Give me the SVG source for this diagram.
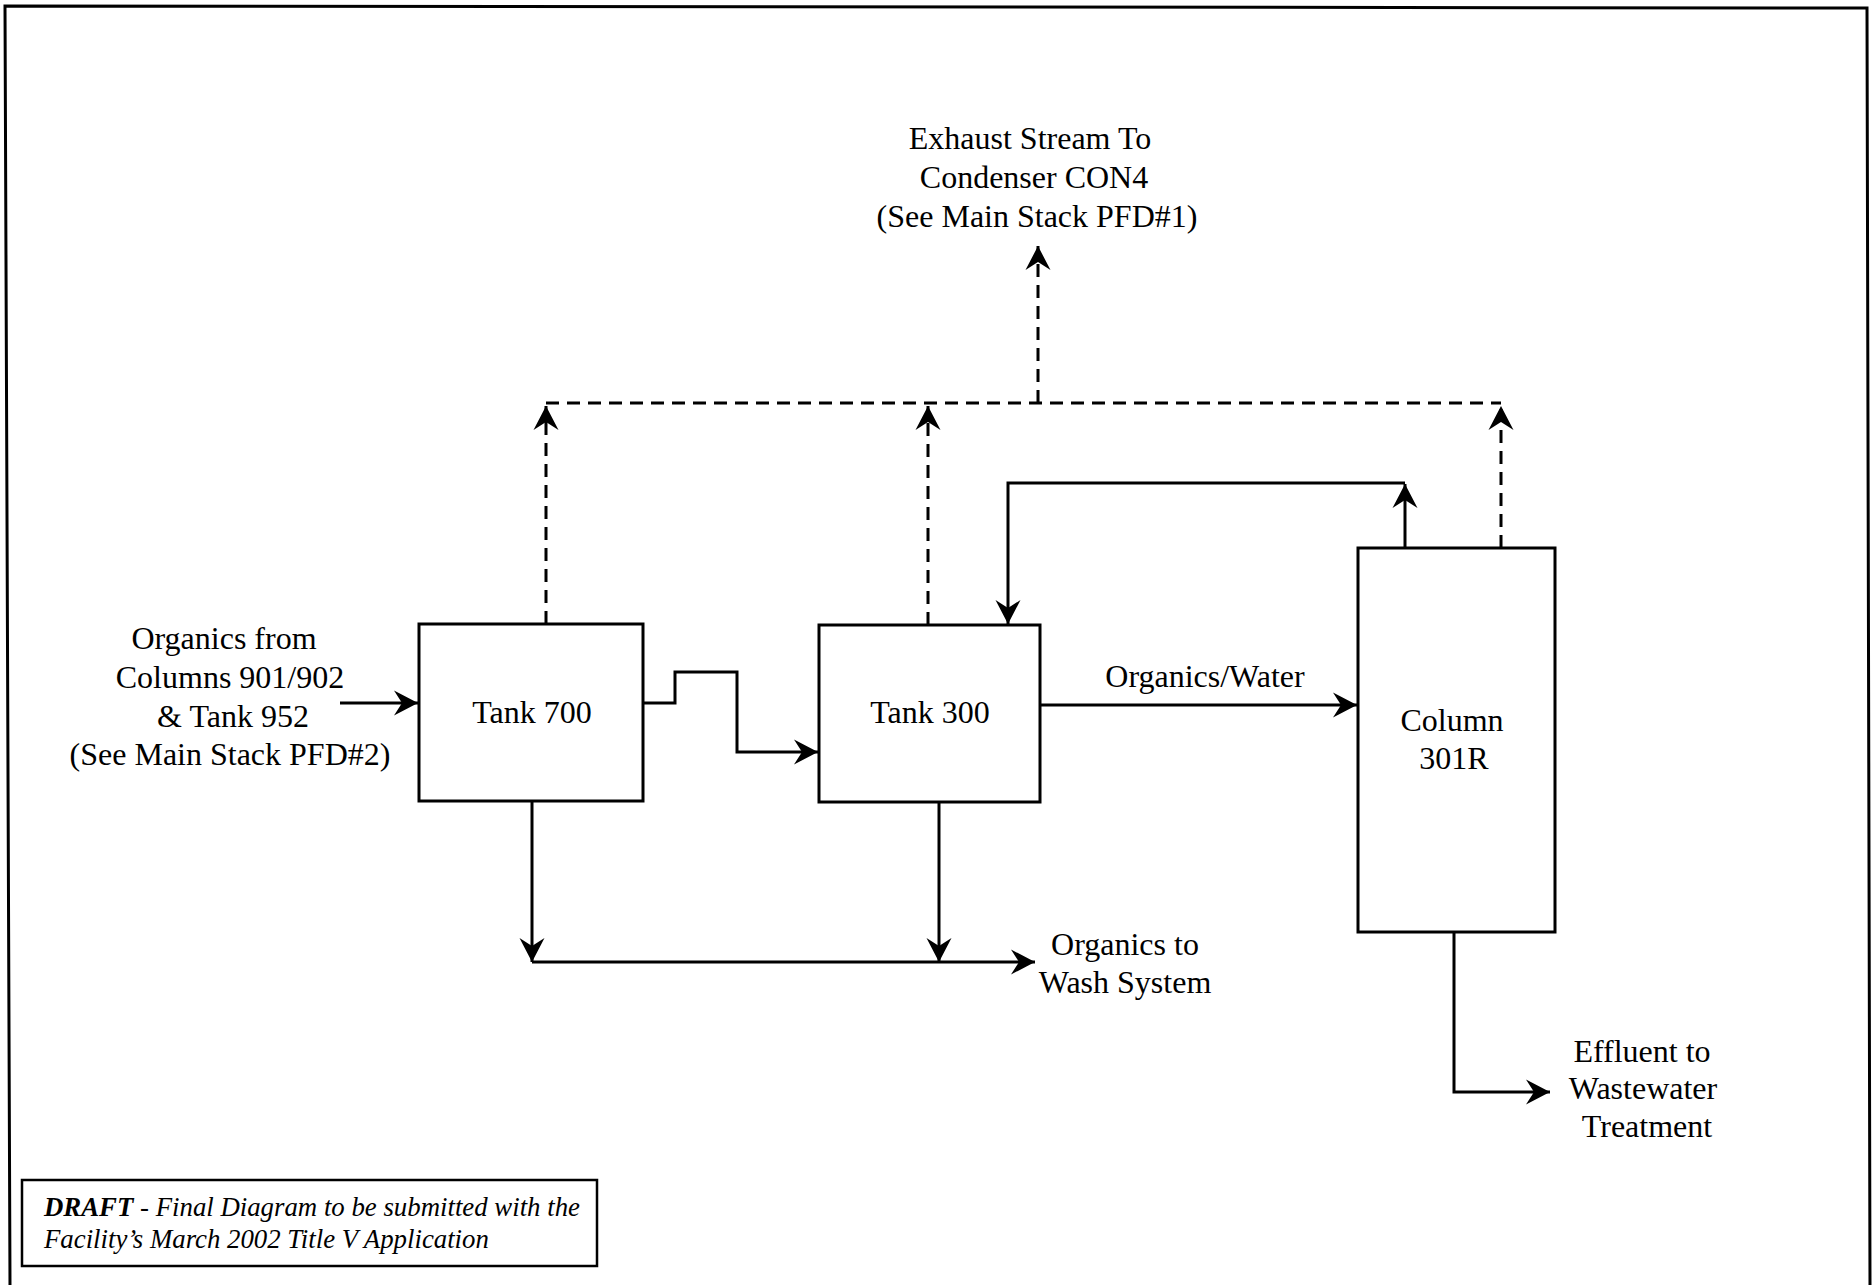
<svg xmlns="http://www.w3.org/2000/svg" width="1873" height="1285" viewBox="0 0 1873 1285">
  <style>
    .box { fill: #ffffff; stroke: #000000; stroke-width: 3; }
    .lbl { font-family: "Liberation Serif", "Times New Roman", serif; font-size: 32px; fill: #000000; text-anchor: middle; }
    .solid { fill: none; stroke: #000000; stroke-width: 3; }
    .dash { fill: none; stroke: #000000; stroke-width: 3; stroke-dasharray: 13 8; }
    .note { font-family: "Liberation Serif", "Times New Roman", serif; font-size: 26.8px; font-style: italic; fill: #000000; }
  </style>
  <defs>
    <marker id="arr" viewBox="-26 -14 28 28" markerWidth="28" markerHeight="28" refX="0" refY="0" orient="auto" markerUnits="userSpaceOnUse">
      <path d="M0,0 L-24,-12.5 L-16,0 L-24,12.5 Z" fill="#000000"/>
    </marker>
  </defs>
  <rect width="1873" height="1285" fill="#ffffff"/>
  <path d="M10,1285 L5,6 L1867,8 L1870,1285" fill="none" stroke="#000000" stroke-width="3"/>

  <g id="connectors">
    <path class="dash" d="M546,624 L546,406" marker-end="url(#arr)"/>
    <path class="dash" d="M928,625 L928,406" marker-end="url(#arr)"/>
    <path class="dash" d="M1501,548 L1501,406" marker-end="url(#arr)"/>
    <path class="dash" d="M546,403 L1501,403"/>
    <path class="dash" d="M1038,403 L1038,246" marker-end="url(#arr)"/>
    <path class="solid" d="M1405,548 L1405,484" marker-end="url(#arr)"/>
    <path class="solid" d="M1405,483 L1008,483 L1008,624" marker-end="url(#arr)"/>
    <path class="solid" d="M340,703 L418,703" marker-end="url(#arr)"/>
    <path class="solid" d="M643,703 L675,703 L675,672 L737,672 L737,752 L818,752" marker-end="url(#arr)"/>
    <path class="solid" d="M1040,705 L1357,705" marker-end="url(#arr)"/>
    <path class="solid" d="M532,801 L532,962" marker-end="url(#arr)"/>
    <path class="solid" d="M939,802 L939,962" marker-end="url(#arr)"/>
    <path class="solid" d="M532,962 L1035,962" marker-end="url(#arr)"/>
    <path class="solid" d="M1454,932 L1454,1092 L1550,1092" marker-end="url(#arr)"/>
  </g>

  <g id="tank700">
    <rect class="box" x="419" y="624" width="224" height="177"/>
    <text class="lbl" x="532" y="723">Tank 700</text>
  </g>
  <g id="tank300">
    <rect class="box" x="819" y="625" width="221" height="177"/>
    <text class="lbl" x="930" y="723">Tank 300</text>
  </g>
  <g id="column301r">
    <rect class="box" x="1358" y="548" width="197" height="384"/>
    <text class="lbl" x="1452" y="731">Column</text>
    <text class="lbl" x="1454" y="769">301R</text>
  </g>
  <g id="label-inlet">
    <text class="lbl" x="224" y="649">Organics from</text>
    <text class="lbl" x="230" y="688">Columns 901/902</text>
    <text class="lbl" x="233" y="727">&amp; Tank 952</text>
    <text class="lbl" x="230" y="765">(See Main Stack PFD#2)</text>
  </g>
  <g id="label-exhaust">
    <text class="lbl" x="1030" y="149">Exhaust Stream To</text>
    <text class="lbl" x="1034" y="188">Condenser CON4</text>
    <text class="lbl" x="1037" y="227">(See Main Stack PFD#1)</text>
  </g>
  <g id="label-orgwater">
    <text class="lbl" x="1205" y="687">Organics/Water</text>
  </g>
  <g id="label-wash">
    <text class="lbl" x="1125" y="955">Organics to</text>
    <text class="lbl" x="1125" y="993">Wash System</text>
  </g>
  <g id="label-effluent">
    <text class="lbl" x="1642" y="1062">Effluent to</text>
    <text class="lbl" x="1643" y="1099">Wastewater</text>
    <text class="lbl" x="1647" y="1137">Treatment</text>
  </g>
  <g id="draft-note">
    <rect x="22" y="1180" width="575" height="86" fill="none" stroke="#000000" stroke-width="2.5"/>
    <text class="note" x="44" y="1216"><tspan font-weight="bold">DRAFT</tspan> - Final Diagram to be submitted with the</text>
    <text class="note" x="44" y="1248">Facility’s March 2002 Title V Application</text>
  </g>
</svg>
